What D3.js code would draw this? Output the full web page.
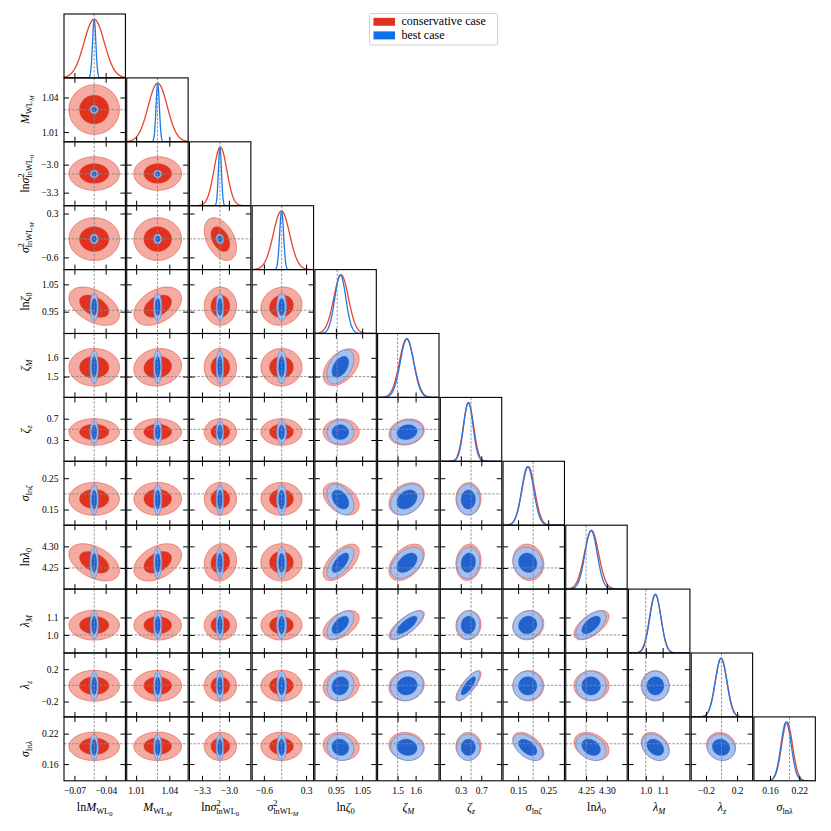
<!DOCTYPE html>
<html lang="en">
<head>
<meta charset="utf-8">
<title>Corner plot</title>
<script src="https://cdn.jsdelivr.net/npm/d3@7"></script>
<style>
  body { margin: 0; background: #fff; }
  text { font-family: "Liberation Serif", "DejaVu Serif", serif; fill: #000; }
</style>
</head>
<body>
<script>
// ---- data ----
const paramNames = ["lnM_WL0", "M_WL_M", "lnsig2_lnWL0", "sig2_lnWL_M", "lnzeta0", "zeta_M",
                    "zeta_z", "sig_lnzeta", "lnlambda0", "lambda_M", "lambda_z", "sig_lnlambda"];
const truths   = [-0.051, 1.0293, -3.10, -0.22, 0.955, 1.50, 0.50, 0.20, 4.25, 1.00, 0.00, 0.20];
const axisLo   = [-0.080, 1.0015, -3.44, -0.85, 0.870, 1.389, -0.10, 0.100, 4.201, 0.897, -0.39, 0.127];
const axisHi   = [-0.021, 1.0570, -2.755, 0.46, 1.104, 1.730, 1.10, 0.304, 4.349, 1.262, 0.40, 0.253];
const tickVals = [[-0.07, -0.04], [1.01, 1.04], [-3.3, -3.0], [-0.6, 0.3], [0.95, 1.05], [1.5, 1.6],
                  [0.3, 0.7], [0.15, 0.25], [4.25, 4.30], [1.0, 1.1], [-0.2, 0.2], [0.16, 0.22]];
const tickText = [["−0.07", "−0.04"], ["1.01", "1.04"], ["−3.3", "−3.0"], ["−0.6", "0.3"], ["0.95", "1.05"], ["1.5", "1.6"],
                  ["0.3", "0.7"], ["0.15", "0.25"], ["4.25", "4.30"], ["1.0", "1.1"], ["−0.2", "0.2"], ["0.16", "0.22"]];

// conservative case (red) and best case (blue): posterior mean and width
const consMean  = [-0.051, 1.0295, -3.095, -0.225, 0.970, 1.550, 0.450, 0.184, 4.263, 1.056, -0.005, 0.195];
const consSigma = [0.0097, 0.0086, 0.072, 0.175, 0.028, 0.040, 0.100, 0.021, 0.0172, 0.034, 0.076, 0.0112];
const bestMean  = [-0.051, 1.0295, -3.100, -0.222, 0.967, 1.552, 0.447, 0.182, 4.262, 1.057, -0.006, 0.193];
const bestSigma = [0.0016, 0.0015, 0.017, 0.042, 0.021, 0.037, 0.092, 0.020, 0.0148, 0.033, 0.074, 0.0106];

// correlations [i, j, conservative, best]
const corrPairs = [
  [2, 3, -0.40, -0.15],
  [0, 4, -0.45, 0], [1, 4, 0.40, 0], [3, 4, 0.10, 0],
  [0, 8, -0.45, 0], [1, 8, 0.40, 0], [2, 8, 0.10, 0],
  [1, 5, 0.10, 0],
  [4, 5, 0.45, 0.45], [5, 6, 0.15, 0.15],
  [4, 7, -0.40, -0.40], [5, 7, 0.30, 0.30],
  [4, 8, 0.60, 0.65], [5, 8, 0.45, 0.45], [6, 8, 0.10, 0.10], [7, 8, -0.10, -0.10],
  [4, 9, 0.50, 0.55], [5, 9, 0.75, 0.75], [6, 9, 0.05, 0.05], [7, 9, 0.10, 0.10], [8, 9, 0.60, 0.60],
  [4, 10, 0.10, 0.10], [5, 10, 0.10, 0.10], [6, 10, 0.80, 0.80],
  [4, 11, -0.10, -0.10], [5, 11, -0.10, -0.10], [7, 11, -0.50, -0.50], [8, 11, -0.30, -0.30],
  [9, 11, -0.30, -0.30], [10, 11, -0.10, -0.10]
];

const legendLabels = ["conservative case", "best case"];

// axis labels as rich text segments (lvl: 0 base, 1 sub, 2 subsub, -1 sup)
const axisLabels = [
  [{t: "ln"}, {t: "M", it: 1}, {t: "WL", lvl: 1}, {t: "0", lvl: 2}],
  [{t: "M", it: 1}, {t: "WL", lvl: 1}, {t: "M", lvl: 2, it: 1}],
  [{t: "ln"}, {t: "σ", it: 1}, {t: "2", lvl: -1}, {t: "lnWL", lvl: 1, back: 1}, {t: "0", lvl: 2}],
  [{t: "σ", it: 1}, {t: "2", lvl: -1}, {t: "lnWL", lvl: 1, back: 1}, {t: "M", lvl: 2, it: 1}],
  [{t: "ln"}, {t: "ζ", it: 1}, {t: "0", lvl: 1}],
  [{t: "ζ", it: 1}, {t: "M", lvl: 1, it: 1}],
  [{t: "ζ", it: 1}, {t: "z", lvl: 1, it: 1}],
  [{t: "σ", it: 1}, {t: "ln", lvl: 1}, {t: "ζ", lvl: 1, it: 1}],
  [{t: "ln"}, {t: "λ", it: 1}, {t: "0", lvl: 1}],
  [{t: "λ", it: 1}, {t: "M", lvl: 1, it: 1}],
  [{t: "λ", it: 1}, {t: "z", lvl: 1, it: 1}],
  [{t: "σ", it: 1}, {t: "ln", lvl: 1}, {t: "λ", lvl: 1, it: 1}]
];

// ---- layout ----
const W = 831, H = 831;
const x0 = 64, y0 = 14, colStep = 62.72, rowStep = 63.9, gap = 1.3;
const n = truths.length;
const tickLen = 5;

const red = {line: "#e8432e", outer: "#f4aba2", outerStroke: "#ea6e5e", inner: "#e0321f",
             k: [1.45, 2.5]};
const blue = {line: "#1f78e6", outer: "#a7c0ec", outerStroke: "#6590dc", inner: "#2262cf",
              k: [1.52, 2.45]};

const svg = d3.select("body").append("svg")
  .attr("width", W).attr("height", H);
const defs = svg.append("defs");

function corr(a, b, which) {
  const lo = Math.min(a, b), hi = Math.max(a, b);
  const p = corrPairs.find(d => d[0] === lo && d[1] === hi);
  return p ? p[which] : 0;
}

function ellipse(mx, my, sx, sy, rho, k, xs, ys) {
  const pts = d3.range(72).map(m => {
    const t = m / 72 * 2 * Math.PI;
    const u = k * Math.cos(t), v = k * Math.sin(t);
    return [xs(mx + sx * u), ys(my + sy * (rho * u + Math.sqrt(1 - rho * rho) * v))];
  });
  return d3.line().curve(d3.curveCardinalClosed)(pts);
}

function richText(sel, segs, size) {
  let cur = 0;
  segs.forEach(s => {
    const lvl = s.lvl || 0;
    const off = lvl === 1 ? size * 0.28 : lvl === 2 ? size * 0.45 : lvl === -1 ? -size * 0.4 : 0;
    const fs = lvl === 0 ? size : lvl === 2 ? size * 0.55 : size * 0.7;
    sel.append("tspan")
      .attr("dy", off - cur)
      .attr("dx", s.back ? -size * 0.36 : 0)
      .style("font-size", fs + "px")
      .style("font-style", s.it ? "italic" : "normal")
      .text(s.t);
    cur = off;
  });
}

function xScale(j) {
  const px = x0 + j * colStep;
  return d3.scaleLinear().domain([axisLo[j], axisHi[j]]).range([px, px + colStep - gap]);
}
function yScale(i) {
  const py = y0 + i * rowStep;
  return d3.scaleLinear().domain([axisLo[i], axisHi[i]]).range([py + rowStep, py]);
}

function styleAxis(g) {
  g.attr("font-family", null);
  g.select(".domain").remove();
  g.selectAll(".tick line").attr("stroke", "#000").attr("stroke-width", 1);
  g.selectAll(".tick text").style("font-size", "9.5px")
    .style("font-family", '"Liberation Serif", "DejaVu Serif", serif');
}

for (let i = 0; i < n; i++) {
  for (let j = 0; j <= i; j++) {
    const xs = xScale(j);
    const px = x0 + j * colStep, py = y0 + i * rowStep;
    const pw = colStep - gap, ph = rowStep;
    const clipId = "clip" + i + "_" + j;
    defs.append("clipPath").attr("id", clipId)
      .append("rect").attr("x", px).attr("y", py).attr("width", pw).attr("height", ph);
    const panel = svg.append("g");
    const inner = panel.append("g").attr("clip-path", "url(#" + clipId + ")");

    if (i === j) {
      // 1D marginals
      const ys = d3.scaleLinear().domain([0, 1.09]).range([py + ph, py]);
      const xsGrid = d3.range(401).map(m => axisLo[j] + (axisHi[j] - axisLo[j]) * m / 400);
      const line = d3.line().x(d => xs(d[0])).y(d => ys(d[1]));
      [[consMean, consSigma, red], [bestMean, bestSigma, blue]].forEach(([mu, sg, c]) => {
        const pts = xsGrid.map(x => [x, Math.exp(-0.5 * Math.pow((x - mu[j]) / sg[j], 2))]);
        inner.append("path").attr("d", line(pts))
          .attr("fill", "none").attr("stroke", c.line).attr("stroke-width", 1.3);
      });
      inner.append("line")
        .attr("x1", xs(truths[j])).attr("x2", xs(truths[j]))
        .attr("y1", py).attr("y2", py + ph)
        .attr("stroke", "#888").attr("stroke-width", 0.9).attr("stroke-dasharray", "2.5,1.5");

      const ax = panel.append("g").attr("transform", "translate(0," + (py + ph) + ")")
        .call(d3.axisBottom(xs).tickValues(tickVals[j]).tickSize(-tickLen).tickPadding(6.5)
          .tickFormat((d, k) => i === n - 1 ? tickText[j][k] : ""));
      styleAxis(ax);
    } else {
      const ys = yScale(i);
      [[consMean, consSigma, red, 2], [bestMean, bestSigma, blue, 3]].forEach(([mu, sg, c, w]) => {
        const rho = corr(i, j, w);
        // red contours have heavier tails where the wide WL parameters are involved
        const kk = (c === red && j < 4) ? c.k : [1.52, 2.45];
        inner.append("path")
          .attr("d", ellipse(mu[j], mu[i], sg[j], sg[i], rho, kk[1], xs, ys))
          .attr("fill", c.outer).attr("stroke", c.outerStroke).attr("stroke-width", 0.8);
        inner.append("path")
          .attr("d", ellipse(mu[j], mu[i], sg[j], sg[i], rho, kk[0], xs, ys))
          .attr("fill", c.inner).attr("stroke", c.inner).attr("stroke-width", 0.4);
      });
      inner.append("line")
        .attr("x1", xs(truths[j])).attr("x2", xs(truths[j]))
        .attr("y1", py).attr("y2", py + ph)
        .attr("stroke", "#888").attr("stroke-width", 0.9).attr("stroke-dasharray", "2.5,1.5");
      inner.append("line")
        .attr("x1", px).attr("x2", px + pw)
        .attr("y1", ys(truths[i])).attr("y2", ys(truths[i]))
        .attr("stroke", "#888").attr("stroke-width", 0.9).attr("stroke-dasharray", "2.5,1.5");

      const axB = panel.append("g").attr("transform", "translate(0," + (py + ph) + ")")
        .call(d3.axisBottom(xs).tickValues(tickVals[j]).tickSize(-tickLen).tickPadding(6.5)
          .tickFormat((d, k) => i === n - 1 ? tickText[j][k] : ""));
      styleAxis(axB);
      const axT = panel.append("g").attr("transform", "translate(0," + py + ")")
        .call(d3.axisTop(xs).tickValues(tickVals[j]).tickSize(-tickLen).tickFormat(""));
      styleAxis(axT);
      const axL = panel.append("g").attr("transform", "translate(" + px + ",0)")
        .call(d3.axisLeft(ys).tickValues(tickVals[i]).tickSize(-tickLen).tickPadding(5.5)
          .tickFormat((d, k) => j === 0 ? tickText[i][k] : ""));
      styleAxis(axL);
      const axR = panel.append("g").attr("transform", "translate(" + (px + pw) + ",0)")
        .call(d3.axisRight(ys).tickValues(tickVals[i]).tickSize(-tickLen).tickFormat(""));
      styleAxis(axR);
    }

    panel.append("rect")
      .attr("x", px).attr("y", py).attr("width", pw).attr("height", ph)
      .attr("fill", "none").attr("stroke", "#000").attr("stroke-width", 1.1);
  }
}

// axis titles
for (let j = 0; j < n; j++) {
  const cx = x0 + j * colStep + (colStep - gap) / 2;
  const t = svg.append("text").attr("x", cx).attr("y", 811)
    .attr("text-anchor", "middle").style("font-size", "12px");
  richText(t, axisLabels[j], 12);
}
for (let i = 1; i < n; i++) {
  const cy = y0 + i * rowStep + rowStep / 2;
  const t = svg.append("text")
    .attr("transform", "translate(29," + cy + ") rotate(-90)")
    .attr("text-anchor", "middle").style("font-size", "12px");
  richText(t, axisLabels[i], 12);
}

// legend
const lg = svg.append("g");
lg.append("rect").attr("x", 369.5).attr("y", 13.5).attr("width", 128).attr("height", 31.5)
  .attr("rx", 2).attr("fill", "#fff").attr("stroke", "#d0d0d0").attr("stroke-width", 1);
[red.inner, "#0f6fe6"].forEach((c, k) => {
  lg.append("rect").attr("x", 373.5).attr("y", 17.8 + k * 13.6).attr("width", 21.5).attr("height", 8)
    .attr("fill", c);
  lg.append("text").attr("x", 401.5).attr("y", 25.4 + k * 13.6)
    .style("font-size", "12px").text(legendLabels[k]);
});
</script>
</body>
</html>
